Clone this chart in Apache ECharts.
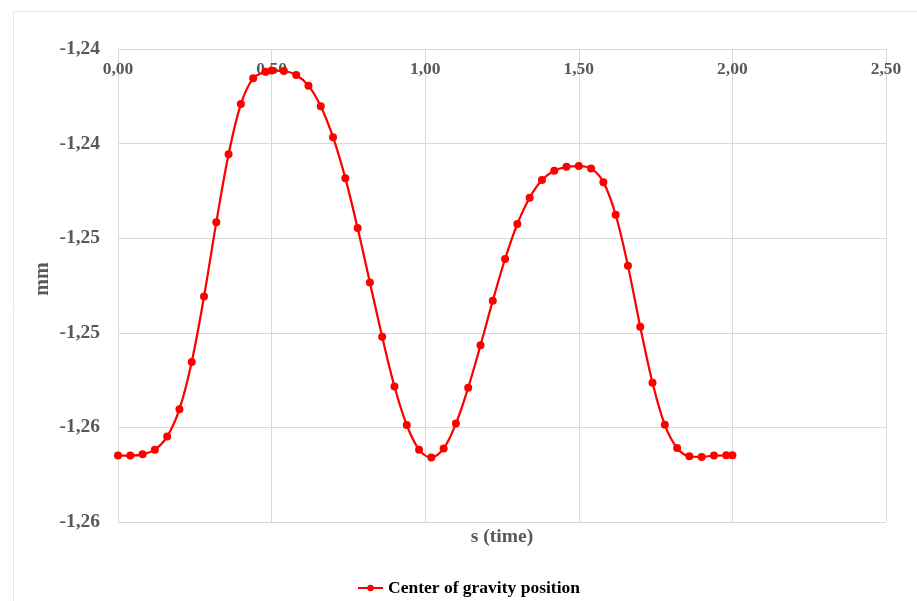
<!DOCTYPE html>
<html>
<head>
<meta charset="utf-8">
<script src="https://cdn.jsdelivr.net/npm/echarts@6/dist/echarts.min.js"></script>
<style>html,body{margin:0;padding:0;background:#fff;}#c{width:917px;height:601px;}</style>
</head>
<body>
<div id="c"></div>
<script>
var seriesName = 'Center of gravity position';
var timeValues = [0.00,0.04,0.08,0.12,0.16,0.20,0.24,0.28,0.32,0.36,0.40,0.44,0.48,0.50,0.54,0.58,0.62,0.66,0.70,0.74,0.78,0.82,0.86,0.90,0.94,0.98,1.02,1.06,1.10,1.14,1.18,1.22,1.26,1.30,1.34,1.38,1.42,1.46,1.50,1.54,1.58,1.62,1.66,1.70,1.74,1.78,1.82,1.86,1.90,1.94,1.98,2.00];
var positionValues = [-1.25719,-1.25719,-1.25714,-1.25694,-1.25639,-1.25523,-1.25323,-1.25047,-1.24733,-1.24445,-1.24233,-1.24124,-1.24096,-1.24091,-1.24093,-1.24110,-1.24155,-1.24242,-1.24373,-1.24546,-1.24757,-1.24987,-1.25217,-1.25427,-1.25590,-1.25694,-1.25727,-1.25689,-1.25584,-1.25432,-1.25253,-1.25064,-1.24888,-1.24740,-1.24629,-1.24554,-1.24515,-1.24498,-1.24495,-1.24505,-1.24563,-1.24701,-1.24917,-1.25174,-1.25411,-1.25589,-1.25687,-1.25722,-1.25725,-1.25719,-1.25718,-1.25718];
var xTicks = [0, 0.5, 1.0, 1.5, 2.0, 2.5];
var xTickLabels = ['0,00','0,50','1,00','1,50','2,00','2,50'];
var yTicks = [-1.260, -1.256, -1.252, -1.248, -1.244, -1.240];
var yTickLabels = ['-1,26','-1,26','-1,25','-1,25','-1,24','-1,24'];
var xTitle = 's (time)';
var yTitle = 'mm';

function labelFor(v, ticks, labels) {
  var best = 0, bd = Infinity;
  for (var i = 0; i < ticks.length; i++) {
    var d = Math.abs(ticks[i] - v);
    if (d < bd) { bd = d; best = i; }
  }
  return labels[best];
}

var data = timeValues.map(function (t, i) { return [t, positionValues[i]]; });
var fontFam = '"Liberation Serif", "Times New Roman", serif';
var gridCol = '#d9d9d9';
var textGray = '#595959';

var chart = echarts.init(document.getElementById('c'));
chart.setOption({
  animation: false,
  backgroundColor: '#ffffff',
  grid: { left: 118, right: 31, top: 49, bottom: 79, containLabel: false, outerBoundsMode: 'none' },
  xAxis: {
    type: 'value',
    position: 'top',
    min: xTicks[0], max: xTicks[xTicks.length - 1], interval: 0.5,
    axisLine: { show: true, lineStyle: { color: gridCol, width: 1 } },
    axisTick: { show: false },
    splitLine: { show: true, lineStyle: { color: gridCol, width: 1 } },
    axisLabel: {
      inside: true, margin: 11,
      color: textGray, fontFamily: fontFam, fontWeight: 'bold', fontSize: 17.5,
      formatter: function (v) { return labelFor(v, xTicks, xTickLabels); }
    }
  },
  yAxis: {
    type: 'value',
    min: yTicks[0], max: yTicks[yTicks.length - 1], interval: 0.004,
    axisLine: { show: true, lineStyle: { color: gridCol, width: 1 } },
    axisTick: { show: false },
    splitLine: { show: true, lineStyle: { color: gridCol, width: 1 } },
    axisLabel: {
      margin: 18,
      color: textGray, fontFamily: fontFam, fontWeight: 'bold', fontSize: 19.5,
      formatter: function (v) { return labelFor(v, yTicks, yTickLabels); }
    }
  },
  legend: {
    top: 579, left: 357, padding: 0,
    itemWidth: 25, itemHeight: 8, itemGap: 10,
    textStyle: { color: '#000000', fontFamily: fontFam, fontWeight: 'bold', fontSize: 17.5 },
    data: [seriesName]
  },
  graphic: [
    { type: 'rect', silent: true, z: -1, shape: { x: 13.5, y: 11.5, width: 930, height: 620 }, style: { fill: 'none', stroke: '#e6e6e6', lineWidth: 1 } },
    { type: 'text', style: { text: xTitle, x: 502, y: 537, fill: textGray, font: 'bold 19.5px ' + fontFam, textAlign: 'center', textVerticalAlign: 'middle' } },
    { type: 'text', x: 43, y: 279, rotation: Math.PI / 2, style: { text: yTitle, fill: textGray, font: 'bold 20px ' + fontFam, textAlign: 'center', textVerticalAlign: 'middle' } }
  ],
  series: [{
    name: seriesName,
    type: 'line',
    data: data,
    smooth: 0.35,
    symbol: 'circle',
    symbolSize: 8,
    showSymbol: true,
    lineStyle: { color: '#ff0000', width: 2.25 },
    itemStyle: { color: '#ff0000' }
  }]
});
</script>
</body>
</html>
